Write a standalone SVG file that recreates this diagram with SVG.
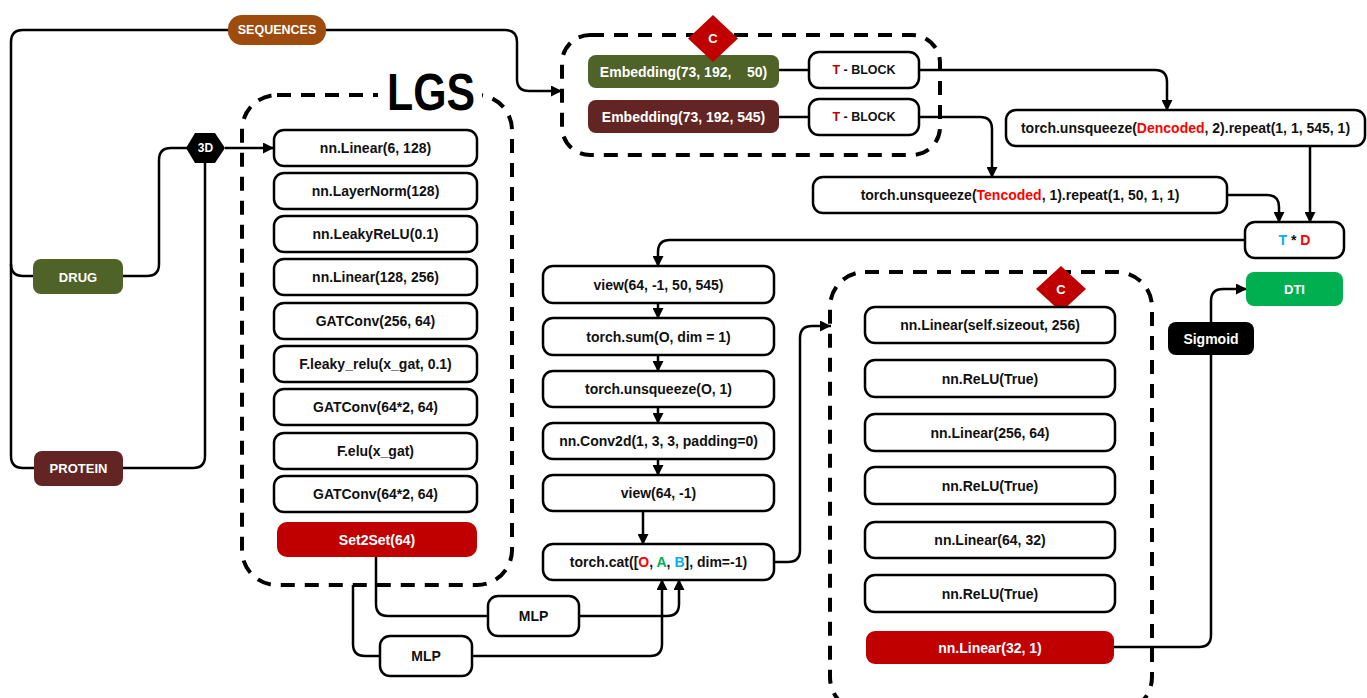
<svg xmlns="http://www.w3.org/2000/svg" width="1367" height="698" viewBox="0 0 1367 698">
<style>
.box{fill:#fff;stroke:#000;stroke-width:2.5}
.t{font-family:"Liberation Sans",Arial,sans-serif;font-weight:bold;font-size:14px;text-anchor:middle;dominant-baseline:central;fill:#111}
.w{fill:#fff}
.c{fill:none;stroke:#000;stroke-width:2.5}
.ca{fill:none;stroke:#000;stroke-width:2.5;marker-end:url(#ah)}
.dash{fill:none;stroke:#000;stroke-width:4;stroke-dasharray:14 10}
.red{fill:#FF0000}
.blue{fill:#00B0F0}
.green{fill:#00B050}
</style>
<defs>
<marker id="ah" markerUnits="userSpaceOnUse" markerWidth="11" markerHeight="11" viewBox="0 0 10 10" refX="10" refY="5" orient="auto">
<path d="M0,0 L10,5 L0,10 z" fill="#000"/>
</marker>
</defs>
<rect width="1367" height="698" fill="#fff"/>

<!-- containers -->
<g id="containers">
<rect class="dash" x="242" y="95" width="270" height="490" rx="35"/>
<rect x="378" y="80" width="104" height="32" fill="#fff"/>
<text x="431" y="110" font-family="Liberation Sans,Arial,sans-serif" font-weight="bold" font-size="52" text-anchor="middle" textLength="88" lengthAdjust="spacingAndGlyphs" fill="#000">LGS</text>
<rect class="dash" x="562" y="35" width="378" height="120" rx="28"/>
<rect class="dash" x="830" y="272" width="322" height="440" rx="35"/>
</g>

<!-- connectors -->
<g id="connectors">
<path class="c" d="M228,30 H23 Q11,30 11,42 V456 Q11,468 23,468 H34"/>
<path class="c" d="M11,264 Q11,276 23,276 H33"/>
<path class="ca" d="M326,30 H505 Q517,30 517,42 V79 Q517,91 529,91 H562"/>
<path class="c" d="M123,276 H147 Q159,276 159,264 V160 Q159,148 171,148 H187"/>
<path class="c" d="M123,468 H193 Q205,468 205,456 V163"/>
<path class="ca" d="M225,148 H274"/>
<path class="c" d="M779,70 H809"/>
<path class="c" d="M779,117 H809"/>
<path class="ca" d="M919,70 H1155 Q1167,70 1167,82 V111"/>
<path class="ca" d="M919,117 H980 Q992,117 992,129 V178"/>
<path class="ca" d="M1227,195 H1267 Q1279,195 1279,207 V223"/>
<path class="ca" d="M1310,146 V223"/>
<path class="ca" d="M1245,240 H670 Q658,240 658,252 V267"/>
<path class="ca" d="M658,303 V319"/>
<path class="ca" d="M658,355 V372"/>
<path class="ca" d="M658,407 V424"/>
<path class="ca" d="M658,459 V476"/>
<path class="ca" d="M643,511 V545"/>
<path class="c" d="M376,557 V604 Q376,616 388,616 H488"/>
<path class="ca" d="M579,616 H667 Q679,616 679,604 V579"/>
<path class="c" d="M353,585 V644 Q353,656 365,656 H380"/>
<path class="ca" d="M472,656 H650 Q662,656 662,644 V579"/>
<path class="ca" d="M774,562 H788 Q800,562 800,550 V338 Q800,326 812,326 H831"/>
<path class="ca" d="M1114,647 H1199 Q1211,647 1211,635 V301 Q1211,289 1223,289 H1247"/>
</g>

<!-- inputs -->
<g id="sequences">
<rect x="228" y="15" width="98" height="30" rx="14" fill="#9E4B0E"/>
<text class="t w" x="277" y="30" style="font-size:12.5px">SEQUENCES</text>
</g>
<g id="drug">
<rect x="33" y="259" width="90" height="35" rx="8" fill="#4F6228"/>
<text class="t w" x="78" y="277" style="font-size:13px">DRUG</text>
</g>
<g id="protein">
<rect x="34" y="451" width="89" height="35" rx="8" fill="#632523"/>
<text class="t w" x="78.5" y="468" style="font-size:13px">PROTEIN</text>
</g>
<g id="three-d">
<polygon points="186,148 195,133 215,133 225,148 215,163 195,163" fill="#000"/>
<text class="t w" x="205.5" y="148" style="font-size:12px">3D</text>
</g>

<!-- LGS stack -->
<g id="lgs-1"><rect class="box" x="274" y="130" width="203" height="36" rx="10"/><text class="t" x="375.5" y="148">nn.Linear(6, 128)</text></g>
<g id="lgs-2"><rect class="box" x="274" y="173" width="203" height="36" rx="10"/><text class="t" x="375.5" y="191">nn.LayerNorm(128)</text></g>
<g id="lgs-3"><rect class="box" x="274" y="216" width="203" height="36" rx="10"/><text class="t" x="375.5" y="234">nn.LeakyReLU(0.1)</text></g>
<g id="lgs-4"><rect class="box" x="274" y="259" width="203" height="36" rx="10"/><text class="t" x="375.5" y="277">nn.Linear(128, 256)</text></g>
<g id="lgs-5"><rect class="box" x="274" y="303" width="203" height="36" rx="10"/><text class="t" x="375.5" y="321">GATConv(256, 64)</text></g>
<g id="lgs-6"><rect class="box" x="274" y="346" width="203" height="36" rx="10"/><text class="t" x="375.5" y="364">F.leaky_relu(x_gat, 0.1)</text></g>
<g id="lgs-7"><rect class="box" x="274" y="389" width="203" height="36" rx="10"/><text class="t" x="375.5" y="407">GATConv(64*2, 64)</text></g>
<g id="lgs-8"><rect class="box" x="274" y="433" width="203" height="36" rx="10"/><text class="t" x="375.5" y="451">F.elu(x_gat)</text></g>
<g id="lgs-9"><rect class="box" x="274" y="476" width="203" height="36" rx="10"/><text class="t" x="375.5" y="494">GATConv(64*2, 64)</text></g>
<g id="set2set"><rect x="277" y="522" width="200" height="35" rx="10" fill="#C00000"/><text class="t w" x="377" y="539.5">Set2Set(64)</text></g>

<!-- embedding block -->
<g id="emb-drug"><rect x="588" y="55" width="191" height="33" rx="8" fill="#4F6228"/><text class="t w" x="683.5" y="71.5" xml:space="preserve">Embedding(73, 192,    50)</text></g>
<g id="emb-protein"><rect x="588" y="100" width="191" height="33" rx="8" fill="#632523"/><text class="t w" x="683.5" y="116.5">Embedding(73, 192, 545)</text></g>
<g id="c-top"><polygon points="713,15 738,38.5 713,62 688,38.5" fill="#C00000"/><text class="t w" x="713" y="38" style="font-size:13px">C</text></g>
<g id="tblock-1"><rect class="box" x="809" y="52" width="110" height="36" rx="10"/><text class="t" x="864" y="70" style="font-size:12.5px"><tspan fill="#C00000">T</tspan> - BLOCK</text></g>
<g id="tblock-2"><rect class="box" x="809" y="99" width="110" height="36" rx="10"/><text class="t" x="864" y="117" style="font-size:12.5px"><tspan fill="#C00000">T</tspan> - BLOCK</text></g>

<g id="d-unsqueeze"><rect class="box" x="1006" y="110" width="359" height="36" rx="10"/><text class="t" x="1185.5" y="128">torch.unsqueeze(<tspan class="red">Dencoded</tspan>, 2).repeat(1, 1, 545, 1)</text></g>
<g id="t-unsqueeze"><rect class="box" x="813" y="177" width="414" height="36" rx="10"/><text class="t" x="1020" y="195">torch.unsqueeze(<tspan class="red">Tencoded</tspan>, 1).repeat(1, 50, 1, 1)</text></g>
<g id="t-times-d"><rect class="box" x="1245" y="222" width="99" height="36" rx="10"/><text class="t" x="1294.5" y="240"><tspan class="blue">T</tspan> * <tspan class="red">D</tspan></text></g>

<!-- middle column -->
<g id="mid-1"><rect class="box" x="543" y="266" width="231" height="37" rx="10"/><text class="t" x="658.5" y="284.5">view(64, -1, 50, 545)</text></g>
<g id="mid-2"><rect class="box" x="543" y="318" width="231" height="37" rx="10"/><text class="t" x="658.5" y="336.5">torch.sum(O, dim = 1)</text></g>
<g id="mid-3"><rect class="box" x="543" y="371" width="231" height="36" rx="10"/><text class="t" x="658.5" y="389">torch.unsqueeze(O, 1)</text></g>
<g id="mid-4"><rect class="box" x="543" y="423" width="231" height="36" rx="10"/><text class="t" x="658.5" y="441">nn.Conv2d(1, 3, 3, padding=0)</text></g>
<g id="mid-5"><rect class="box" x="543" y="475" width="231" height="36" rx="10"/><text class="t" x="658.5" y="493">view(64, -1)</text></g>
<g id="cat"><rect class="box" x="543" y="544" width="231" height="36" rx="10"/><text class="t" x="658.5" y="562">torch.cat([<tspan class="red">O</tspan>, <tspan class="green">A</tspan>, <tspan class="blue">B</tspan>], dim=-1)</text></g>
<g id="mlp-1"><rect class="box" x="488" y="596" width="91" height="40" rx="10"/><text class="t" x="533.5" y="616">MLP</text></g>
<g id="mlp-2"><rect class="box" x="380" y="636" width="92" height="40" rx="10"/><text class="t" x="426" y="656">MLP</text></g>

<!-- classifier -->
<g id="c-right"><polygon points="1061,266 1086,289 1061,312 1036,289" fill="#C00000"/><text class="t w" x="1061" y="289" style="font-size:13px">C</text></g>
<g id="cls-1"><rect class="box" x="865" y="307" width="250" height="36" rx="10"/><text class="t" x="990" y="325">nn.Linear(self.sizeout, 256)</text></g>
<g id="cls-2"><rect class="box" x="865" y="360" width="250" height="37" rx="10"/><text class="t" x="990" y="378.5">nn.ReLU(True)</text></g>
<g id="cls-3"><rect class="box" x="865" y="414" width="250" height="37" rx="10"/><text class="t" x="990" y="432.5">nn.Linear(256, 64)</text></g>
<g id="cls-4"><rect class="box" x="865" y="467" width="250" height="37" rx="10"/><text class="t" x="990" y="485.5">nn.ReLU(True)</text></g>
<g id="cls-5"><rect class="box" x="865" y="522" width="250" height="36" rx="10"/><text class="t" x="990" y="540">nn.Linear(64, 32)</text></g>
<g id="cls-6"><rect class="box" x="865" y="575" width="250" height="37" rx="10"/><text class="t" x="990" y="593.5">nn.ReLU(True)</text></g>
<g id="cls-7"><rect x="866" y="631" width="248" height="33" rx="9" fill="#C00000"/><text class="t w" x="990" y="647.5">nn.Linear(32, 1)</text></g>
<g id="sigmoid"><rect x="1168" y="322" width="86" height="33" rx="8" fill="#000"/><text class="t w" x="1211" y="338.5">Sigmoid</text></g>
<g id="dti"><rect x="1246" y="272" width="97" height="34" rx="8" fill="#00B050"/><text class="t w" x="1294.5" y="289" style="font-size:13px">DTI</text></g>
</svg>
